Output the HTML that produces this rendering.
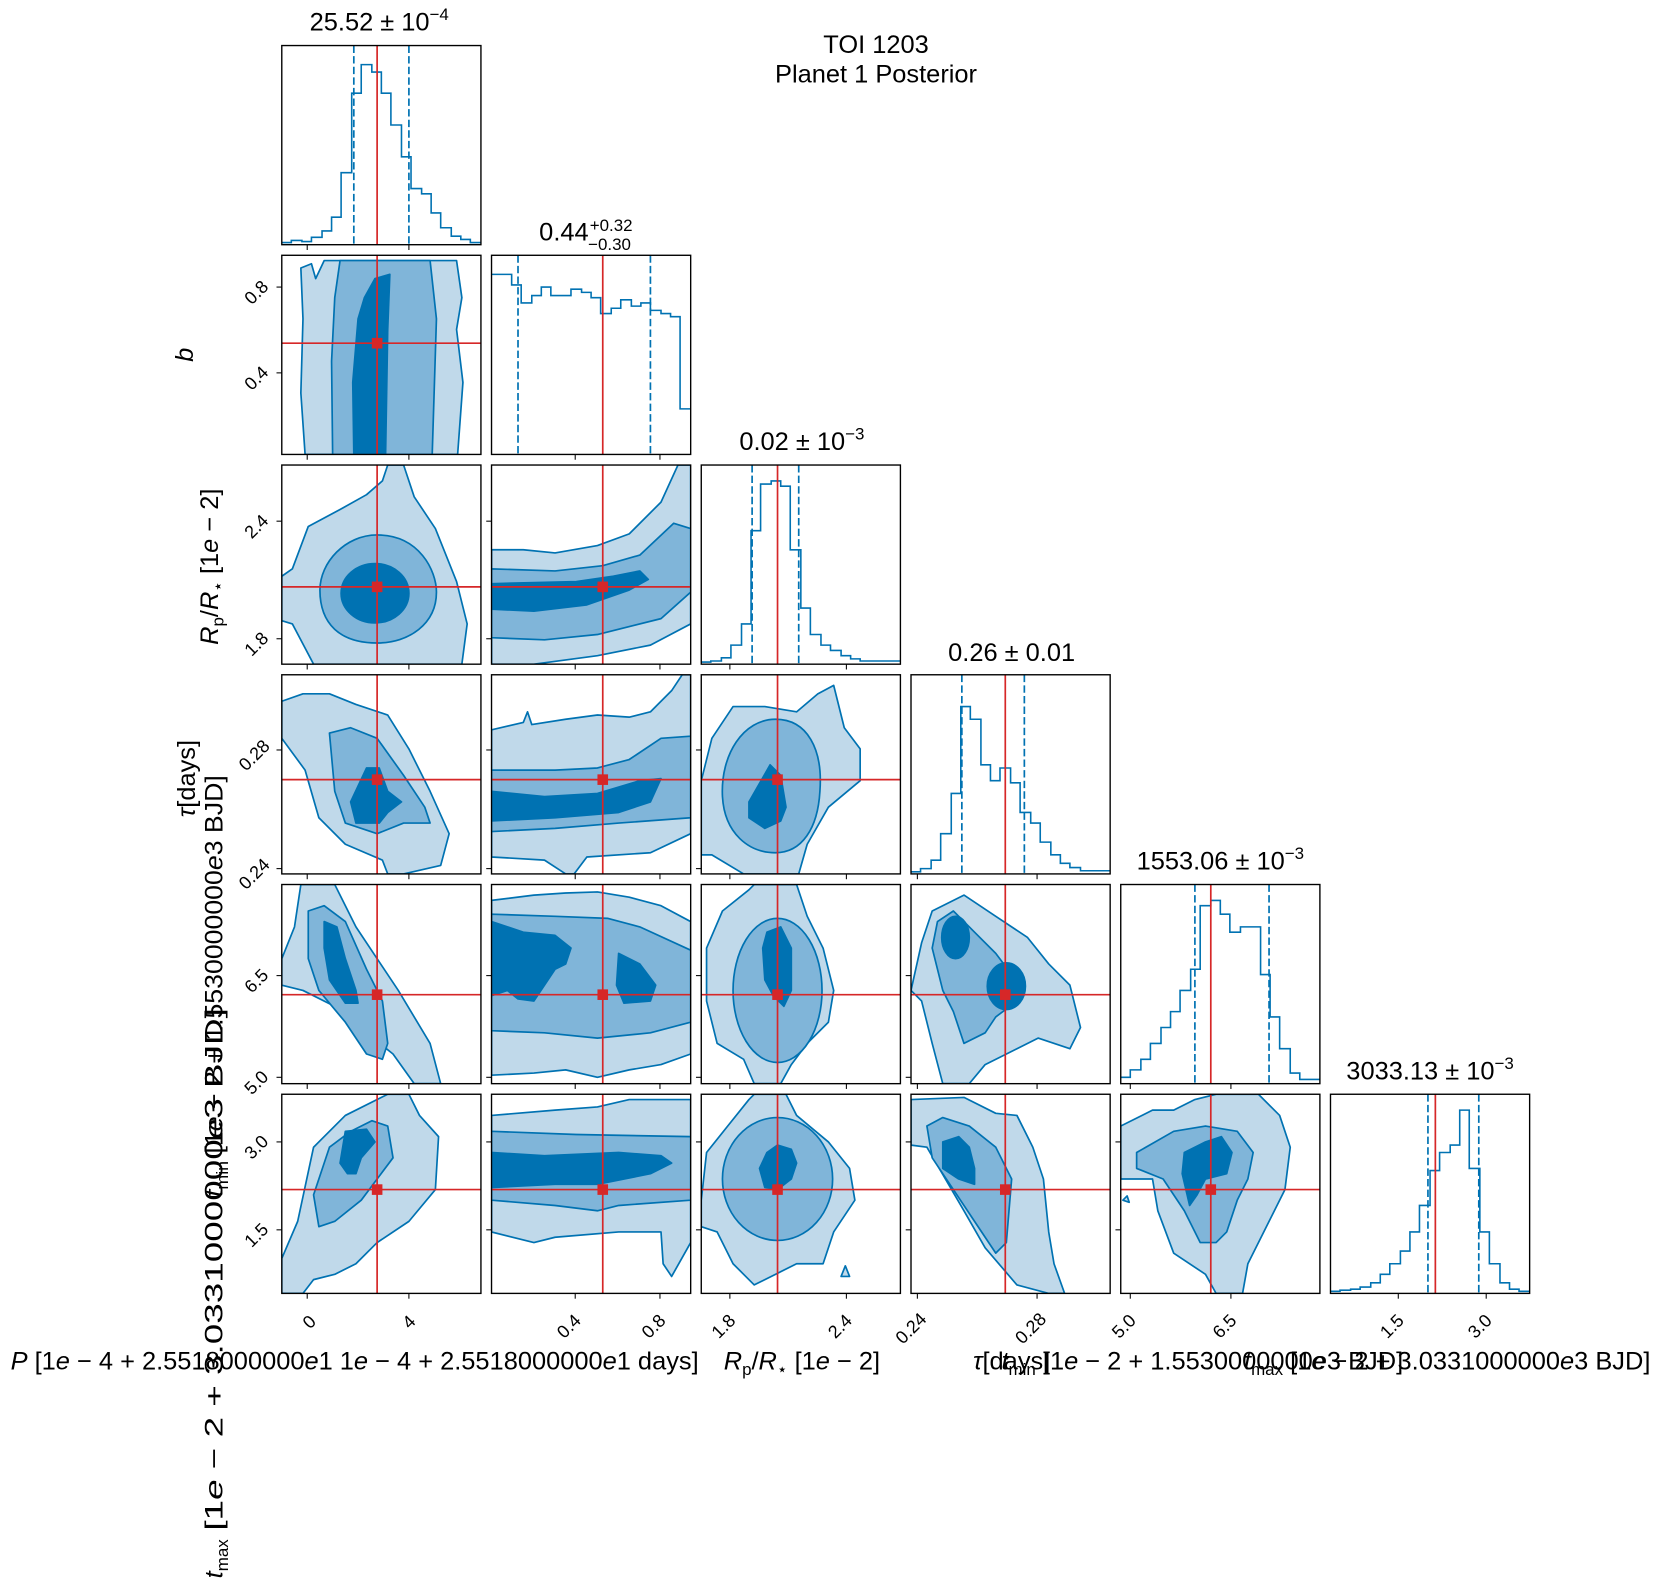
<!DOCTYPE html>
<html><head><meta charset="utf-8"><style>
html,body{margin:0;padding:0;background:#fff;}
svg{display:block;}
text{font-family:"Liberation Sans","DejaVu Sans",sans-serif;fill:#000;}
.o{fill:#c0d9ea;stroke:#0072b2;stroke-width:1.6;stroke-linejoin:round;}
.m{fill:#80b5d9;stroke:#0072b2;stroke-width:1.6;stroke-linejoin:round;}
.i{fill:#0072b2;stroke:#0072b2;stroke-width:1.6;stroke-linejoin:round;}
.fr{fill:none;stroke:#000;stroke-width:1.3;}
.h{fill:none;stroke:#0072b2;stroke-width:1.5;}
.d{stroke:#0072b2;stroke-width:1.6;stroke-dasharray:7,3;}
.r{stroke:#d62728;stroke-width:1.6;}
.tk{font-size:17px;}
.lb{font-size:24px;}
.tt{font-size:24px;}
</style></head><body>
<svg width="1661" height="1590" viewBox="0 0 1568 1501" xmlns="http://www.w3.org/2000/svg">
<defs>
<clipPath id="c"><rect x="0" y="0" width="188" height="188"/></clipPath>
</defs>

<!-- titles -->
<text class="tt" x="827" y="50" text-anchor="middle">TOI 1203</text>
<text class="tt" x="827" y="78" text-anchor="middle">Planet 1 Posterior</text>
<text class="tt" x="358" y="29" text-anchor="middle">25.52 ± 10<tspan font-size="16" dy="-10">−4</tspan></text>
<text class="tt" x="509" y="227">0.44<tspan font-size="16" dx="1" dy="-9">+0.32</tspan><tspan font-size="16" dx="-42" dy="18">−0.30</tspan></text>
<text class="tt" x="757" y="425" text-anchor="middle">0.02 ± 10<tspan font-size="16" dy="-10">−3</tspan></text>
<text class="tt" x="955" y="624" text-anchor="middle">0.26 ± 0.01</text>
<text class="tt" x="1152" y="821" text-anchor="middle">1553.06 ± 10<tspan font-size="16" dy="-10">−3</tspan></text>
<text class="tt" x="1350" y="1019" text-anchor="middle">3033.13 ± 10<tspan font-size="16" dy="-10">−3</tspan></text>

<!-- Row1 hist P -->
<g transform="translate(266,43)">
<g clip-path="url(#c)">
<path class="h" d="M0,186 H9 V184 H19 V185 H28 V181 H38 V175 H47 V162 H56 V120 H66 V45 H75 V18 H85 V25 H94 V45 H103 V75 H113 V105 H122 V135 H132 V140 H141 V158 H150 V172 H160 V180 H169 V183 H178 V186 H188"/>
<line class="d" x1="68" y1="0" x2="68" y2="188"/><line class="d" x1="120" y1="0" x2="120" y2="188"/>
<line class="r" x1="90" y1="0" x2="90" y2="188"/>
</g>
<rect class="fr" x="0" y="0" width="188" height="188"/>
<line x1="24" y1="188" x2="24" y2="193" stroke="#000"/><line x1="120" y1="188" x2="120" y2="193" stroke="#000"/>
</g>

<!-- Row2 -->
<g transform="translate(266,241)">
<g clip-path="url(#c)">
<path class="o" d="M18,12 L28,8 L32,22 L40,5 L165,5 L170,40 L165,70 L171,120 L166,188 L22,188 L18,130 L20,60 Z"/>
<path class="m" d="M55,5 L140,5 L146,60 L142,188 L48,188 L47,100 L50,40 Z"/>
<path class="i" d="M88,22 L102,18 L100,70 L98,188 L68,188 L67,120 L72,60 L78,40 Z"/>
<line class="r" x1="90" y1="0" x2="90" y2="188"/><line class="r" x1="0" y1="83" x2="188" y2="83"/>
<rect x="85" y="78" width="10" height="10" fill="#d62728"/>
</g>
<rect class="fr" x="0" y="0" width="188" height="188"/>
<line x1="24" y1="188" x2="24" y2="193" stroke="#000"/><line x1="120" y1="188" x2="120" y2="193" stroke="#000"/>
<line x1="0" y1="30" x2="-5" y2="30" stroke="#000"/><line x1="0" y1="111" x2="-5" y2="111" stroke="#000"/>
</g>
<g transform="translate(464,241)">
<g clip-path="url(#c)">
<path class="h" d="M0,18 H19 V28 H28 V45 H38 V38 H47 V30 H56 V38 H66 V38 H75 V32 H85 V35 H94 V40 H103 V55 H113 V50 H122 V42 H132 V48 H141 V45 H150 V52 H160 V55 H169 V58 H178 V145 H188"/>
<line class="d" x1="25" y1="0" x2="25" y2="188"/><line class="d" x1="150" y1="0" x2="150" y2="188"/>
<line class="r" x1="105" y1="0" x2="105" y2="188"/>
</g>
<rect class="fr" x="0" y="0" width="188" height="188"/>
<line x1="79" y1="188" x2="79" y2="193" stroke="#000"/><line x1="159" y1="188" x2="159" y2="193" stroke="#000"/>
</g>

<!-- Row3 -->
<g transform="translate(266,439)">
<g clip-path="url(#c)">
<path class="o" d="M0,105 L10,98 L25,58 L55,42 L80,28 L95,15 L100,0 L115,0 L125,30 L145,60 L165,110 L175,150 L170,188 L30,188 L10,150 L0,147 Z"/>
<path class="m" d="M90,66 C130,66 146,100 146,120 C146,150 120,168 90,168 C55,168 36,150 36,118 C36,92 60,66 90,66 Z"/>
<ellipse class="i" cx="88" cy="121" rx="32" ry="28"/>
<line class="r" x1="90" y1="0" x2="90" y2="188"/><line class="r" x1="0" y1="115" x2="188" y2="115"/>
<rect x="85" y="110" width="10" height="10" fill="#d62728"/>
</g>
<rect class="fr" x="0" y="0" width="188" height="188"/>
<line x1="24" y1="188" x2="24" y2="193" stroke="#000"/><line x1="120" y1="188" x2="120" y2="193" stroke="#000"/>
<line x1="0" y1="53" x2="-5" y2="53" stroke="#000"/><line x1="0" y1="164" x2="-5" y2="164" stroke="#000"/>
</g>
<g transform="translate(464,439)">
<g clip-path="url(#c)">
<path class="o" d="M0,80 L30,80 L60,83 L100,76 L130,65 L160,35 L176,0 L188,0 L188,150 L150,170 L100,180 L40,188 L0,188 Z"/>
<path class="m" d="M0,98 L60,100 L105,95 L140,85 L172,55 L188,60 L188,120 L160,145 L100,160 L50,165 L0,163 Z"/>
<path class="i" d="M0,112 L80,110 L115,105 L140,100 L148,108 L130,118 L90,132 L40,138 L0,136 Z"/>
<line class="r" x1="105" y1="0" x2="105" y2="188"/><line class="r" x1="0" y1="115" x2="188" y2="115"/>
<rect x="100" y="110" width="10" height="10" fill="#d62728"/>
</g>
<rect class="fr" x="0" y="0" width="188" height="188"/>
<line x1="79" y1="188" x2="79" y2="193" stroke="#000"/><line x1="159" y1="188" x2="159" y2="193" stroke="#000"/>
<line x1="0" y1="53" x2="-5" y2="53" stroke="#000"/><line x1="0" y1="164" x2="-5" y2="164" stroke="#000"/>
</g>
<g transform="translate(662,439)">
<g clip-path="url(#c)">
<path class="h" d="M0,186 H9 V185 H19 V182 H28 V170 H38 V150 H47 V62 H56 V18 H66 V15 H75 V20 H84 V80 H94 V135 H103 V160 H113 V170 H122 V175 H132 V180 H141 V183 H150 V185 H188"/>
<line class="d" x1="48" y1="0" x2="48" y2="188"/><line class="d" x1="92" y1="0" x2="92" y2="188"/>
<line class="r" x1="72" y1="0" x2="72" y2="188"/>
</g>
<rect class="fr" x="0" y="0" width="188" height="188"/>
<line x1="27" y1="188" x2="27" y2="193" stroke="#000"/><line x1="137" y1="188" x2="137" y2="193" stroke="#000"/>
</g>

<!-- Row4 -->
<g transform="translate(266,637)">
<g clip-path="url(#c)">
<path class="o" d="M0,25 L20,18 L45,18 L70,28 L100,38 L120,70 L140,110 L158,150 L150,180 L115,188 L100,188 L95,175 L60,160 L35,135 L22,90 L0,60 Z"/>
<path class="m" d="M45,55 L65,50 L90,60 L115,95 L135,125 L140,140 L115,140 L90,150 L60,140 L50,110 Z"/>
<path class="i" d="M80,88 L92,88 L100,110 L113,120 L100,130 L92,140 L70,140 L65,120 Z"/>
<line class="r" x1="90" y1="0" x2="90" y2="188"/><line class="r" x1="0" y1="99" x2="188" y2="99"/>
<rect x="85" y="94" width="10" height="10" fill="#d62728"/>
</g>
<rect class="fr" x="0" y="0" width="188" height="188"/>
<line x1="24" y1="188" x2="24" y2="193" stroke="#000"/><line x1="120" y1="188" x2="120" y2="193" stroke="#000"/>
<line x1="0" y1="71" x2="-5" y2="71" stroke="#000"/><line x1="0" y1="183" x2="-5" y2="183" stroke="#000"/>
</g>
<g transform="translate(464,637)">
<g clip-path="url(#c)">
<path class="o" d="M0,52 L30,45 L34,35 L38,47 L70,42 L100,38 L130,40 L150,35 L170,15 L180,0 L188,0 L188,150 L150,168 L90,172 L78,188 L70,188 L50,175 L0,172 Z"/>
<path class="m" d="M0,90 L60,90 L100,88 L130,80 L160,60 L188,58 L188,135 L120,140 L60,145 L0,148 Z"/>
<path class="i" d="M0,110 L50,115 L100,112 L140,100 L160,98 L150,120 L120,130 L60,135 L0,138 Z"/>
<line class="r" x1="105" y1="0" x2="105" y2="188"/><line class="r" x1="0" y1="99" x2="188" y2="99"/>
<rect x="100" y="94" width="10" height="10" fill="#d62728"/>
</g>
<rect class="fr" x="0" y="0" width="188" height="188"/>
<line x1="79" y1="188" x2="79" y2="193" stroke="#000"/><line x1="159" y1="188" x2="159" y2="193" stroke="#000"/>
<line x1="0" y1="71" x2="-5" y2="71" stroke="#000"/><line x1="0" y1="183" x2="-5" y2="183" stroke="#000"/>
</g>
<g transform="translate(662,637)">
<g clip-path="url(#c)">
<path class="o" d="M0,100 L10,60 L30,30 L60,30 L90,35 L110,18 L125,10 L135,50 L150,70 L150,100 L120,125 L100,160 L92,188 L40,188 L10,170 L0,170 Z"/>
<path class="m" d="M70,42 C100,42 115,70 112,110 C110,145 95,168 70,168 C45,168 22,150 20,115 C18,75 40,42 70,42 Z"/>
<path class="i" d="M65,85 L75,95 L80,125 L75,138 L60,145 L45,135 L45,120 Z"/>
<line class="r" x1="72" y1="0" x2="72" y2="188"/><line class="r" x1="0" y1="99" x2="188" y2="99"/>
<rect x="67" y="94" width="10" height="10" fill="#d62728"/>
</g>
<rect class="fr" x="0" y="0" width="188" height="188"/>
<line x1="27" y1="188" x2="27" y2="193" stroke="#000"/><line x1="137" y1="188" x2="137" y2="193" stroke="#000"/>
<line x1="0" y1="71" x2="-5" y2="71" stroke="#000"/><line x1="0" y1="183" x2="-5" y2="183" stroke="#000"/>
</g>
<g transform="translate(860,637)">
<g clip-path="url(#c)">
<path class="h" d="M0,186 H9 V183 H19 V175 H28 V150 H38 V112 H47 V30 H56 V42 H66 V85 H75 V100 H84 V88 H94 V102 H103 V130 H113 V140 H122 V158 H132 V170 H141 V178 H150 V182 H160 V185 H188"/>
<line class="d" x1="48" y1="0" x2="48" y2="188"/><line class="d" x1="107" y1="0" x2="107" y2="188"/>
<line class="r" x1="89" y1="0" x2="89" y2="188"/>
</g>
<rect class="fr" x="0" y="0" width="188" height="188"/>
<line x1="6" y1="188" x2="6" y2="193" stroke="#000"/><line x1="119" y1="188" x2="119" y2="193" stroke="#000"/>
</g>

<!-- Row5 -->
<g transform="translate(266,835)">
<g clip-path="url(#c)">
<path class="o" d="M0,70 L12,40 L18,0 L50,0 L70,40 L90,70 L110,100 L125,125 L140,150 L150,188 L125,188 L105,160 L80,140 L50,115 L20,100 L0,95 Z"/>
<path class="m" d="M25,25 L40,20 L60,35 L80,80 L95,110 L100,150 L95,165 L80,160 L60,130 L35,100 L25,70 Z"/>
<path class="i" d="M40,35 L52,40 L60,70 L70,100 L72,112 L60,112 L45,90 L40,60 Z"/>
<line class="r" x1="90" y1="0" x2="90" y2="188"/><line class="r" x1="0" y1="104" x2="188" y2="104"/>
<rect x="85" y="99" width="10" height="10" fill="#d62728"/>
</g>
<rect class="fr" x="0" y="0" width="188" height="188"/>
<line x1="24" y1="188" x2="24" y2="193" stroke="#000"/><line x1="120" y1="188" x2="120" y2="193" stroke="#000"/>
<line x1="0" y1="86" x2="-5" y2="86" stroke="#000"/><line x1="0" y1="182" x2="-5" y2="182" stroke="#000"/>
</g>
<g transform="translate(464,835)">
<g clip-path="url(#c)">
<path class="o" d="M0,15 L40,10 L70,8 L100,7 L130,12 L160,20 L188,35 L188,160 L160,170 L130,175 L100,182 L70,175 L40,178 L0,180 Z"/>
<path class="m" d="M0,28 L60,30 L110,32 L140,40 L188,62 L188,130 L150,140 L100,145 L50,140 L0,138 Z"/>
<path class="i" d="M0,35 L30,45 L60,48 L75,60 L70,75 L60,80 L50,95 L40,110 L25,108 L15,100 L0,105 Z"/>
<path class="i" d="M120,65 L140,75 L155,95 L150,110 L125,112 L118,95 Z"/>
<line class="r" x1="105" y1="0" x2="105" y2="188"/><line class="r" x1="0" y1="104" x2="188" y2="104"/>
<rect x="100" y="99" width="10" height="10" fill="#d62728"/>
</g>
<rect class="fr" x="0" y="0" width="188" height="188"/>
<line x1="79" y1="188" x2="79" y2="193" stroke="#000"/><line x1="159" y1="188" x2="159" y2="193" stroke="#000"/>
<line x1="0" y1="86" x2="-5" y2="86" stroke="#000"/><line x1="0" y1="182" x2="-5" y2="182" stroke="#000"/>
</g>
<g transform="translate(662,835)">
<g clip-path="url(#c)">
<path class="o" d="M5,60 L20,25 L45,5 L50,0 L90,0 L100,30 L115,60 L125,100 L120,130 L100,150 L85,170 L75,188 L50,188 L40,165 L15,150 L5,110 Z"/>
<ellipse class="m" cx="72" cy="100" rx="42" ry="68"/>
<path class="i" d="M62,45 L75,40 L85,60 L85,100 L78,115 L68,105 L60,90 L58,60 Z"/>
<line class="r" x1="72" y1="0" x2="72" y2="188"/><line class="r" x1="0" y1="104" x2="188" y2="104"/>
<rect x="67" y="99" width="10" height="10" fill="#d62728"/>
</g>
<rect class="fr" x="0" y="0" width="188" height="188"/>
<line x1="27" y1="188" x2="27" y2="193" stroke="#000"/><line x1="137" y1="188" x2="137" y2="193" stroke="#000"/>
<line x1="0" y1="86" x2="-5" y2="86" stroke="#000"/><line x1="0" y1="182" x2="-5" y2="182" stroke="#000"/>
</g>
<g transform="translate(860,835)">
<g clip-path="url(#c)">
<path class="o" d="M0,100 L10,55 L20,25 L50,10 L80,30 L110,50 L130,75 L150,95 L160,135 L150,155 L120,145 L100,155 L70,170 L55,188 L30,188 L20,150 L10,110 Z"/>
<path class="m" d="M20,60 L25,35 L40,25 L60,45 L80,65 L95,85 L100,110 L80,125 L70,140 L50,150 L40,120 L30,100 Z"/>
<ellipse class="i" cx="42" cy="50" rx="13" ry="20"/>
<ellipse class="i" cx="90" cy="96" rx="18" ry="22"/>
<line class="r" x1="89" y1="0" x2="89" y2="188"/><line class="r" x1="0" y1="104" x2="188" y2="104"/>
<rect x="84" y="99" width="10" height="10" fill="#d62728"/>
</g>
<rect class="fr" x="0" y="0" width="188" height="188"/>
<line x1="6" y1="188" x2="6" y2="193" stroke="#000"/><line x1="119" y1="188" x2="119" y2="193" stroke="#000"/>
<line x1="0" y1="86" x2="-5" y2="86" stroke="#000"/><line x1="0" y1="182" x2="-5" y2="182" stroke="#000"/>
</g>
<g transform="translate(1058,835)">
<g clip-path="url(#c)">
<path class="h" d="M0,182 H9 V175 H19 V165 H28 V150 H38 V135 H47 V120 H56 V100 H66 V80 H75 V20 H85 V15 H94 V28 H103 V45 H113 V40 H122 V40 H132 V85 H141 V125 H150 V155 H160 V178 H169 V184 H188"/>
<line class="d" x1="70" y1="0" x2="70" y2="188"/><line class="d" x1="140" y1="0" x2="140" y2="188"/>
<line class="r" x1="85" y1="0" x2="85" y2="188"/>
</g>
<rect class="fr" x="0" y="0" width="188" height="188"/>
<line x1="9" y1="188" x2="9" y2="193" stroke="#000"/><line x1="104" y1="188" x2="104" y2="193" stroke="#000"/>
</g>

<!-- Row6 -->
<g transform="translate(266,1033)">
<g clip-path="url(#c)">
<path class="o" d="M0,155 L15,120 L30,50 L60,20 L100,0 L120,0 L130,20 L148,40 L145,90 L120,120 L90,140 L70,160 L50,170 L30,175 L20,188 L0,188 Z"/>
<path class="m" d="M45,50 L65,35 L85,25 L100,30 L105,60 L90,80 L75,100 L50,120 L35,125 L30,95 Z"/>
<path class="i" d="M60,35 L80,33 L88,45 L75,60 L70,75 L62,75 L55,65 Z"/>
<line class="r" x1="90" y1="0" x2="90" y2="188"/><line class="r" x1="0" y1="90" x2="188" y2="90"/>
<rect x="85" y="85" width="10" height="10" fill="#d62728"/>
</g>
<rect class="fr" x="0" y="0" width="188" height="188"/>
<line x1="24" y1="188" x2="24" y2="193" stroke="#000"/><line x1="120" y1="188" x2="120" y2="193" stroke="#000"/>
<line x1="0" y1="45" x2="-5" y2="45" stroke="#000"/><line x1="0" y1="128" x2="-5" y2="128" stroke="#000"/>
</g>
<g transform="translate(464,1033)">
<g clip-path="url(#c)">
<path class="o" d="M0,20 L60,15 L100,12 L130,5 L188,5 L188,140 L170,172 L162,160 L160,130 L120,130 L60,135 L40,140 L0,130 Z"/>
<path class="m" d="M0,35 L80,38 L188,40 L188,100 L120,105 L100,110 L60,105 L0,100 Z"/>
<path class="i" d="M0,55 L50,58 L120,55 L160,58 L170,65 L150,75 L100,85 L60,85 L0,88 Z"/>
<line class="r" x1="105" y1="0" x2="105" y2="188"/><line class="r" x1="0" y1="90" x2="188" y2="90"/>
<rect x="100" y="85" width="10" height="10" fill="#d62728"/>
</g>
<rect class="fr" x="0" y="0" width="188" height="188"/>
<line x1="79" y1="188" x2="79" y2="193" stroke="#000"/><line x1="159" y1="188" x2="159" y2="193" stroke="#000"/>
<line x1="0" y1="45" x2="-5" y2="45" stroke="#000"/><line x1="0" y1="128" x2="-5" y2="128" stroke="#000"/>
</g>
<g transform="translate(662,1033)">
<g clip-path="url(#c)">
<path class="o" d="M0,100 L5,55 L25,30 L45,5 L50,0 L80,0 L90,20 L120,45 L140,70 L145,100 L125,130 L115,160 L90,160 L70,170 L50,180 L30,160 L15,130 L0,125 Z"/>
<ellipse class="m" cx="72" cy="80" rx="52" ry="58"/>
<path class="i" d="M72,48 L85,52 L90,65 L85,80 L72,90 L60,88 L55,70 L62,55 Z"/>
<path class="o" d="M132,172 L136,162 L140,172 Z"/>
<line class="r" x1="72" y1="0" x2="72" y2="188"/><line class="r" x1="0" y1="90" x2="188" y2="90"/>
<rect x="67" y="85" width="10" height="10" fill="#d62728"/>
</g>
<rect class="fr" x="0" y="0" width="188" height="188"/>
<line x1="27" y1="188" x2="27" y2="193" stroke="#000"/><line x1="137" y1="188" x2="137" y2="193" stroke="#000"/>
<line x1="0" y1="45" x2="-5" y2="45" stroke="#000"/><line x1="0" y1="128" x2="-5" y2="128" stroke="#000"/>
</g>
<g transform="translate(860,1033)">
<g clip-path="url(#c)">
<path class="o" d="M0,5 L50,3 L80,18 L100,20 L115,50 L125,80 L130,130 L135,160 L145,188 L130,188 L100,180 L70,145 L50,110 L15,50 L0,48 Z"/>
<path class="m" d="M15,30 L30,22 L55,30 L80,50 L95,80 L90,140 L80,150 L60,120 L40,90 L20,60 Z"/>
<path class="i" d="M30,45 L45,40 L55,50 L60,70 L60,85 L45,80 L30,70 Z"/>
<line class="r" x1="89" y1="0" x2="89" y2="188"/><line class="r" x1="0" y1="90" x2="188" y2="90"/>
<rect x="84" y="85" width="10" height="10" fill="#d62728"/>
</g>
<rect class="fr" x="0" y="0" width="188" height="188"/>
<line x1="6" y1="188" x2="6" y2="193" stroke="#000"/><line x1="119" y1="188" x2="119" y2="193" stroke="#000"/>
<line x1="0" y1="45" x2="-5" y2="45" stroke="#000"/><line x1="0" y1="128" x2="-5" y2="128" stroke="#000"/>
</g>
<g transform="translate(1058,1033)">
<g clip-path="url(#c)">
<path class="o" d="M0,30 L30,15 L50,15 L70,5 L90,0 L130,0 L150,20 L160,50 L155,90 L140,120 L120,160 L115,188 L90,188 L80,170 L50,150 L35,110 L30,80 L0,80 Z"/>
<path class="m" d="M15,55 L50,35 L80,30 L110,35 L125,55 L120,80 L110,100 L100,130 L90,140 L75,140 L60,110 L40,80 L15,70 Z"/>
<path class="i" d="M60,55 L80,45 L95,40 L105,55 L100,75 L80,80 L72,95 L65,105 L58,75 Z"/>
<path class="o" d="M2,100 L6,96 L8,102 Z"/>
<line class="r" x1="85" y1="0" x2="85" y2="188"/><line class="r" x1="0" y1="90" x2="188" y2="90"/>
<rect x="80" y="85" width="10" height="10" fill="#d62728"/>
</g>
<rect class="fr" x="0" y="0" width="188" height="188"/>
<line x1="9" y1="188" x2="9" y2="193" stroke="#000"/><line x1="104" y1="188" x2="104" y2="193" stroke="#000"/>
<line x1="0" y1="45" x2="-5" y2="45" stroke="#000"/><line x1="0" y1="128" x2="-5" y2="128" stroke="#000"/>
</g>
<g transform="translate(1256,1033)">
<g clip-path="url(#c)">
<path class="h" d="M0,186 H9 V185 H19 V184 H28 V182 H38 V178 H47 V170 H56 V160 H66 V148 H75 V130 H84 V105 H94 V72 H103 V55 H113 V48 H122 V15 H131 V70 H141 V130 H150 V160 H160 V178 H169 V184 H178 V186 H188"/>
<line class="d" x1="92" y1="0" x2="92" y2="188"/><line class="d" x1="140" y1="0" x2="140" y2="188"/>
<line class="r" x1="99" y1="0" x2="99" y2="188"/>
</g>
<rect class="fr" x="0" y="0" width="188" height="188"/>
<line x1="64" y1="188" x2="64" y2="193" stroke="#000"/><line x1="147" y1="188" x2="147" y2="193" stroke="#000"/>
</g>

<!-- bottom tick labels -->
<g class="tk">
<text transform="translate(296,1252) rotate(-45)" text-anchor="middle">0</text>
<text transform="translate(390,1252) rotate(-45)" text-anchor="middle">4</text>
<text transform="translate(541,1256) rotate(-45)" text-anchor="middle">0.4</text>
<text transform="translate(621,1256) rotate(-45)" text-anchor="middle">0.8</text>
<text transform="translate(687,1256) rotate(-45)" text-anchor="middle">1.8</text>
<text transform="translate(797,1256) rotate(-45)" text-anchor="middle">2.4</text>
<text transform="translate(864,1258) rotate(-45)" text-anchor="middle">0.24</text>
<text transform="translate(977,1258) rotate(-45)" text-anchor="middle">0.28</text>
<text transform="translate(1065,1256) rotate(-45)" text-anchor="middle">5.0</text>
<text transform="translate(1160,1256) rotate(-45)" text-anchor="middle">6.5</text>
<text transform="translate(1318,1256) rotate(-45)" text-anchor="middle">1.5</text>
<text transform="translate(1401,1256) rotate(-45)" text-anchor="middle">3.0</text>
<!-- left tick labels -->
<text transform="translate(246,280) rotate(-45)" text-anchor="middle">0.8</text>
<text transform="translate(246,361) rotate(-45)" text-anchor="middle">0.4</text>
<text transform="translate(246,501) rotate(-45)" text-anchor="middle">2.4</text>
<text transform="translate(246,612) rotate(-45)" text-anchor="middle">1.8</text>
<text transform="translate(244,717) rotate(-45)" text-anchor="middle">0.28</text>
<text transform="translate(244,829) rotate(-45)" text-anchor="middle">0.24</text>
<text transform="translate(246,930) rotate(-45)" text-anchor="middle">6.5</text>
<text transform="translate(246,1026) rotate(-45)" text-anchor="middle">5.0</text>
<text transform="translate(246,1087) rotate(-45)" text-anchor="middle">3.0</text>
<text transform="translate(246,1170) rotate(-45)" text-anchor="middle">1.5</text>
</g>

<!-- axis labels -->
<g class="lb">
<text x="10" y="1293"><tspan font-style="italic">P</tspan> [1<tspan font-style="italic">e</tspan> − 4 + 2.5518000000<tspan font-style="italic">e</tspan>1 1<tspan font-style="italic">e</tspan> − 4 + 2.5518000000<tspan font-style="italic">e</tspan>1   days]</text>
<text x="757" y="1293" text-anchor="middle"><tspan font-style="italic">R</tspan><tspan font-size="16" dy="5">p</tspan><tspan dy="-5">/</tspan><tspan font-style="italic">R</tspan><tspan font-size="16" dy="5">⋆</tspan><tspan dy="-5"> [1</tspan><tspan font-style="italic">e</tspan> − 2]</text>
<text x="955" y="1293" text-anchor="middle"><tspan font-style="italic">τ</tspan>[days]</text>
<text x="1135" y="1293" text-anchor="middle"><tspan font-style="italic">t</tspan><tspan font-size="16" dy="5">min</tspan><tspan dy="-5"> [1</tspan><tspan font-style="italic">e</tspan> − 2 + 1.5530000000<tspan font-style="italic">e</tspan>3  BJD]</text>
<text x="1558" y="1293" text-anchor="end"><tspan font-style="italic">t</tspan><tspan font-size="16" dy="5">max</tspan><tspan dy="-5"> [1</tspan><tspan font-style="italic">e</tspan> − 2 + 3.0331000000<tspan font-style="italic">e</tspan>3  BJD]</text>

<text transform="translate(182,335) rotate(-90)" text-anchor="middle" font-style="italic">b</text>
<text transform="translate(206,535) rotate(-90)" text-anchor="middle"><tspan font-style="italic">R</tspan><tspan font-size="16" dy="5">p</tspan><tspan dy="-5">/</tspan><tspan font-style="italic">R</tspan><tspan font-size="16" dy="5">⋆</tspan><tspan dy="-5"> [1</tspan><tspan font-style="italic">e</tspan> − 2]</text>
<text transform="translate(184,735) rotate(-90)" text-anchor="middle"><tspan font-style="italic">τ</tspan>[days]</text>
<text transform="translate(210,1130) rotate(-90) scale(1.05,1)"><tspan font-style="italic">t</tspan><tspan font-size="16" dy="5">min</tspan><tspan dy="-5"> [1</tspan><tspan font-style="italic">e</tspan> − 2 + 1.5530000000<tspan font-style="italic">e</tspan>3  BJD]</text>
<text transform="translate(210,1445) rotate(-90) scale(1.45,1)">[1<tspan font-style="italic">e</tspan> − 2 + 3.0331000000<tspan font-style="italic">e</tspan>3  BJD]</text>
<text transform="translate(210,1490) rotate(-90)"><tspan font-style="italic">t</tspan><tspan font-size="16" dy="5">max</tspan></text>
</g>
</svg>
</body></html>
